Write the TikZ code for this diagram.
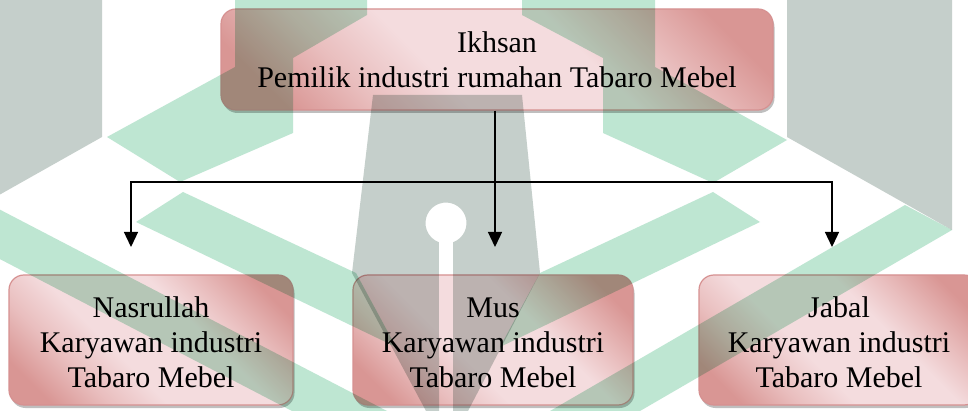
\documentclass[tikz,border=0pt]{standalone}
\usepackage{fontspec}
\setmainfont{Liberation Serif}
\usetikzlibrary{shadings, shadows, arrows.meta}

\definecolor{pkdark}{RGB}{217,150,148}
\definecolor{pkmid}{RGB}{233,190,190}
\definecolor{pklight}{RGB}{244,220,222}
\definecolor{pkline}{RGB}{214,145,145}
\definecolor{wmgray}{RGB}{197,207,203}
\definecolor{wmgreen}{RGB}{190,230,210}

\pgfdeclarehorizontalshading{boxshade}{100bp}{color(0bp)=(pkdark); color(22bp)=(pkdark); color(32bp)=(pkmid); color(42bp)=(pklight); color(60bp)=(pklight); color(68bp)=(pkmid); color(78bp)=(pkdark); color(100bp)=(pkdark)}

\tikzset{
  staffbox/.style={draw=pkline, line width=1.2pt, rounded corners=15pt,
    shading=boxshade, shading angle=45, align=center,
    font=\fontsize{30}{35}\selectfont,
    drop shadow={shadow xshift=1.5pt, shadow yshift=-3pt, fill=black!50, opacity=.5}},
  link/.style={line width=1.3pt},
  linkarrow/.style={link, -{Triangle[length=15pt,width=14pt]}}
}
\newcommand{\topgap}{\rule{0pt}{26pt}}

\begin{document}
\begin{tikzpicture}[x=1pt,y=-1pt]

\useasboundingbox (0,0) rectangle (968,411);
\fill[white] (0,0) rectangle (968,411);

% boxes
\node[staffbox, minimum width=552pt, minimum height=101pt] (owner) at (497,59.5) {Ikhsan\\Pemilik industri rumahan Tabaro Mebel};

\node[staffbox, minimum width=284pt, minimum height=130pt] (nasrullah) at (151,340) {\topgap Nasrullah\\Karyawan industri\\Tabaro Mebel};
\node[staffbox, minimum width=280pt, minimum height=130pt] (mus) at (493,340) {\topgap Mus\\Karyawan industri\\Tabaro Mebel};
\node[staffbox, minimum width=280pt, minimum height=130pt] (jabal) at (839,340) {\topgap Jabal\\Karyawan industri\\Tabaro Mebel};

% connectors
\coordinate (joinl) at (131,182);
\coordinate (joinm) at (495,182);
\coordinate (joinr) at (832,182);
\coordinate (tipl) at (131,247);
\coordinate (tipm) at (495,247);
\coordinate (tipr) at (832,247);

\draw[linkarrow] (owner.south -| tipm) -- (tipm);
\draw[linkarrow] (joinm) -- (joinl) -- (tipl);
\draw[linkarrow] (joinm) -- (joinr) -- (tipr);

% watermark
\begin{scope}[blend mode=multiply]
\clip (0,0) rectangle (968,411);
\fill[wmgray] (-63,0) -- (102,0) -- (102,137) -- (-63,230) -- cycle;
\fill[wmgray] (787,0) -- (952,0) -- (952,230) -- (787,137) -- cycle;
\fill[wmgray, even odd rule] (373,95) -- (522,95) -- (540,273) -- (468,411) -- (426,411) -- (352,273) -- cycle
  (453,411) -- (453,242.3) arc[start angle=290, end angle=610, radius=20.5pt] -- (439,411) -- cycle;

\fill[wmgreen] (235,0) -- (367,0) -- (367,15) -- (293,58) -- (293,133) -- (180,182) -- (107,137) -- (235,67) -- cycle;
\fill[wmgreen] (655,0) -- (522,0) -- (522,15) -- (603,58) -- (603,133) -- (713,183) -- (787,140) -- (655,67) -- cycle;
\fill[wmgreen] (183,192) -- (136,222) -- (396,347) -- (356,273) -- cycle;
\fill[wmgreen] (713,192) -- (760,222) -- (500,347) -- (540,273) -- cycle;
\fill[wmgreen] (-9,205) -- (-56,230) -- (292,411) -- (387,411) -- cycle;
\fill[wmgreen] (905,205) -- (952,230) -- (640,411) -- (550,411) -- cycle;
\end{scope}

\end{tikzpicture}
\end{document}
